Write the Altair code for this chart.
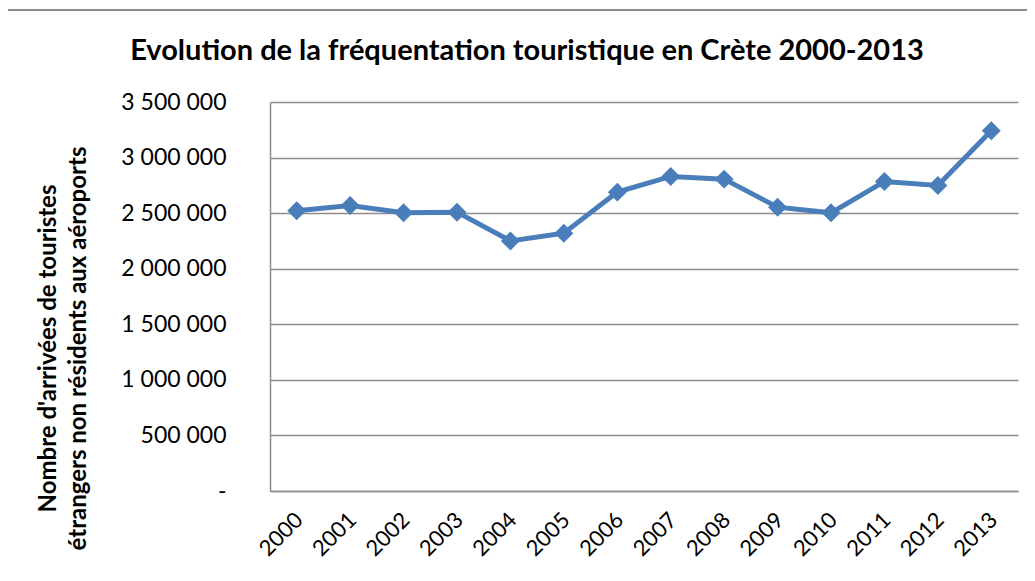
import altair as alt
import pandas as pd

years = ["2000", "2001", "2002", "2003", "2004", "2005", "2006",
         "2007", "2008", "2009", "2010", "2011", "2012", "2013"]
arrivals = [2521000, 2568000, 2503000, 2509000, 2250000, 2320000, 2689000,
            2830000, 2806000, 2554000, 2503000, 2785000, 2749000, 3241000]
y_ticks = [0, 500000, 1000000, 1500000, 2000000, 2500000, 3000000, 3500000]

title_text = "Evolution de la fréquentation touristique en Crète 2000-2013"
y_title = ["Nombre d'arrivées de touristes",
           "étrangers non résidents aux aéroports"]

df = pd.DataFrame({"year": years, "arrivals": arrivals})

FONT = "Lato"
BLUE = "#4a7ebb"
GREY = "#8c8c8c"

x_enc = alt.X("year:O", title=None,
              scale=alt.Scale(type="point", padding=0.5),
              axis=alt.Axis(labelAngle=-45, labelFontSize=22, labelFont=FONT,
                            labelColor="#000000", ticks=False, domainColor=GREY,
                            domainWidth=1.5, labelPadding=18, labelOffset=-5,
                            grid=False))
y_enc = alt.Y("arrivals:Q", title=y_title,
              scale=alt.Scale(domain=[0, 3500000], nice=False),
              axis=alt.Axis(values=y_ticks, ticks=False, domainColor=GREY,
                            domainWidth=1.5, gridColor=GREY, gridWidth=1.5,
                            labelFont=FONT, labelFontSize=23, labelColor="#000000",
                            labelPadding=44,
                            labelExpr="datum.value == 0 ? '-' : replace(format(datum.value, ','), regexp(',', 'g'), ' ')",
                            titleFont=FONT, titleFontSize=24, titleFontWeight="bold",
                            titleColor="#000000", titleLineHeight=30,
                            titleAngle=-90, titleBaseline="top", titleAlign="center",
                            titleX=-234, titleY=246))

line = alt.Chart(df).mark_line(color=BLUE, strokeWidth=5).encode(x=x_enc, y=y_enc)
pts = alt.Chart(df).mark_point(shape="diamond", filled=True, color=BLUE,
                               size=360, opacity=1).encode(x=x_enc, y=y_enc)

frame = alt.Chart(df).mark_rect(fill=None, stroke=GREY, strokeWidth=1.5,
                                clip=False).encode(
    x=alt.value(-263), x2=alt.value(800), y=alt.value(-92), y2=alt.value(500))

chart = alt.layer(frame, line, pts).properties(
    width=748, height=389,
    autosize=alt.AutoSizeParams(type="none"),
    padding={"left": 262, "top": 94, "right": 9, "bottom": 82},
    title=alt.TitleParams(title_text, font=FONT, fontSize=29, fontWeight="bold",
                          color="#000000", anchor="middle", dx=-117, offset=0,
                          dy=57),
).configure_view(stroke=None)

chart.save("out.html", embed_options={"renderer": "svg", "actions": False})
